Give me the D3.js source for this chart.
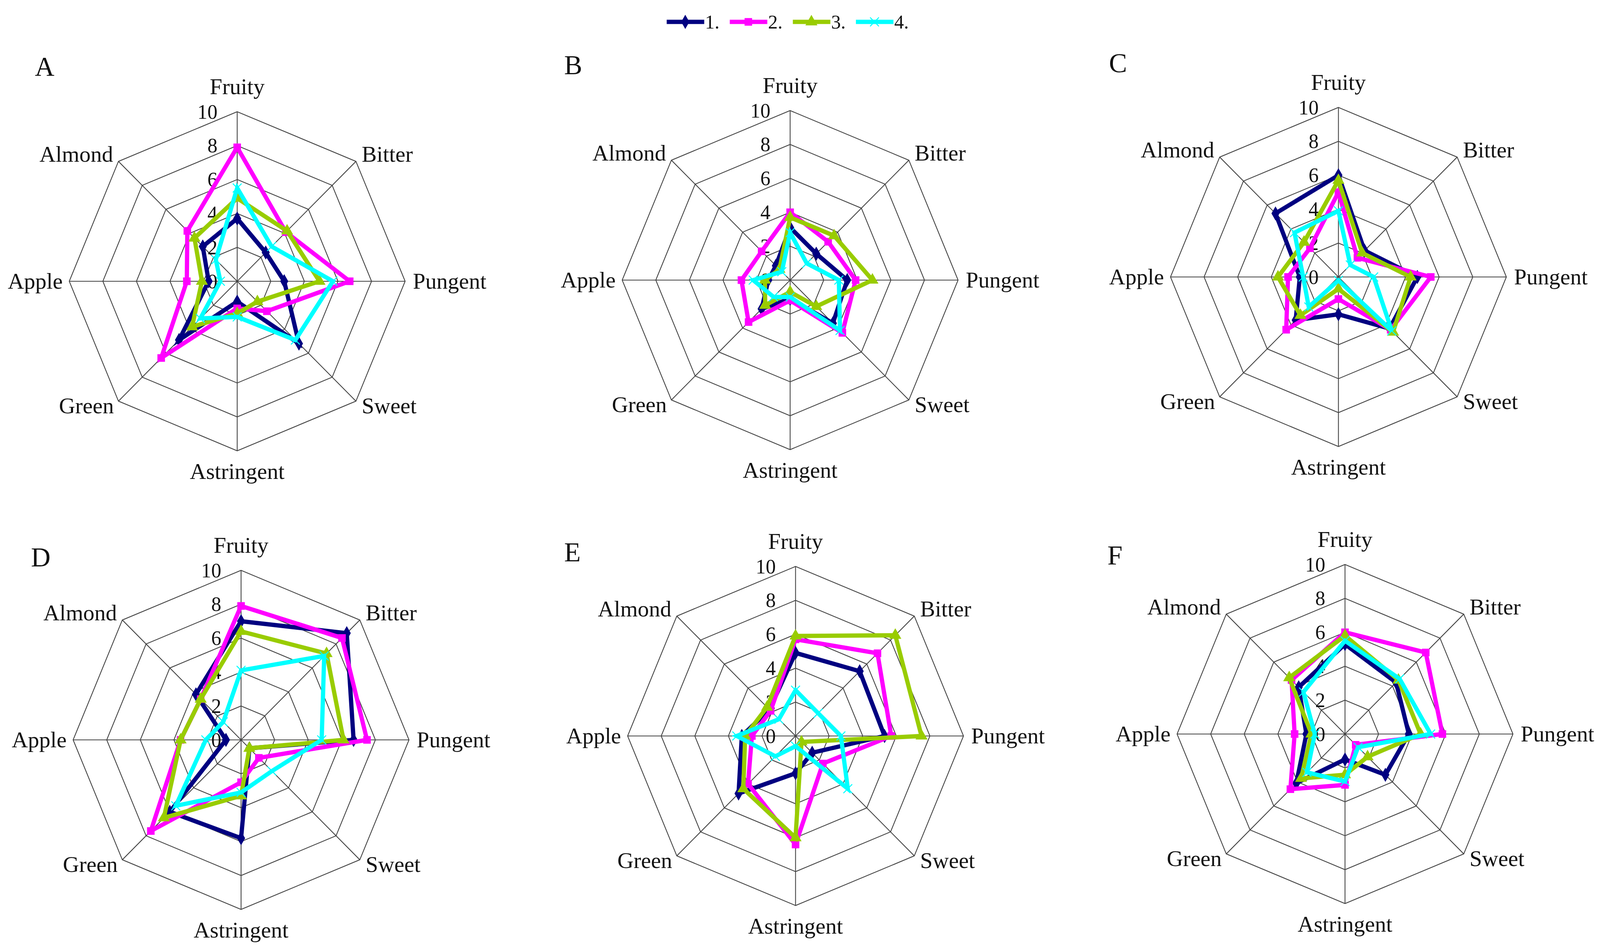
<!DOCTYPE html>
<html>
<head>
<meta charset="utf-8">
<script src="https://cdn.jsdelivr.net/npm/d3@7"></script>
<style>
  html, body { margin: 0; padding: 0; overflow: hidden; background: #fff; }
  svg { display: block; }
  text { font-family: "Liberation Serif", "Times New Roman", serif; fill: #111; }
</style>
</head>
<body>
<div id="chart"></div>
<script>
// axes of every radar, clockwise from the top
var axes = ["Fruity", "Bitter", "Pungent", "Sweet", "Astringent", "Green", "Apple", "Almond"];
var seriesNames = ["1.", "2.", "3.", "4."];
var ticks = [0, 2, 4, 6, 8, 10];
var panelNames = ["A", "B", "C", "D", "E", "F"];

// values per panel: one row per series (1. .. 4.), same order as axes
var panelA = [
    [3.7, 2.4, 2.8, 5.2, 1.2, 4.9, 1.7, 2.9],
    [7.9, 4.1, 6.7, 2.5, 1.6, 6.4, 3.0, 4.2],
    [4.9, 4.2, 4.9, 1.7, 1.9, 3.8, 2.1, 3.6],
    [5.5, 2.9, 5.7, 4.9, 2.1, 3.1, 1.0, 1.8]
];
var panelB = [
    [3.1, 2.2, 3.4, 3.6, 1.1, 2.4, 1.3, 1.2],
    [4.0, 3.2, 3.9, 4.4, 1.2, 3.5, 2.9, 2.4],
    [3.7, 3.7, 4.9, 2.2, 0.7, 2.1, 1.5, 0.9],
    [2.8, 1.4, 2.9, 4.2, 1.0, 1.4, 2.2, 0.7]
];
var panelC = [
    [6.0, 2.2, 4.7, 4.3, 2.2, 3.6, 2.3, 5.3],
    [5.0, 1.6, 5.5, 4.4, 1.3, 4.4, 3.0, 2.4],
    [5.7, 2.0, 4.3, 4.6, 0.7, 3.2, 3.6, 2.9],
    [3.9, 1.0, 2.1, 4.5, 0.2, 2.5, 2.1, 3.7]
];
var panelD = [
    [7.0, 8.9, 6.7, 0.7, 5.8, 6.0, 0.9, 3.8],
    [7.9, 8.5, 7.5, 1.5, 2.5, 7.6, 3.6, 3.4],
    [6.4, 7.2, 6.1, 0.7, 3.3, 6.5, 3.6, 3.4],
    [4.1, 7.0, 4.8, 2.6, 3.1, 5.5, 2.1, 1.5]
];
var panelE = [
    [4.9, 5.4, 5.3, 1.4, 2.2, 4.8, 3.2, 2.2],
    [5.7, 6.9, 5.7, 2.3, 6.4, 4.0, 2.6, 2.1],
    [5.9, 8.4, 7.5, 0.5, 6.0, 4.4, 3.0, 2.4],
    [2.7, 1.9, 2.7, 4.4, 0.6, 1.7, 3.5, 1.4]
];
var panelF = [
    [5.3, 4.3, 3.8, 3.4, 1.5, 4.1, 2.3, 3.9],
    [6.0, 6.8, 5.8, 0.9, 3.0, 4.6, 3.0, 4.5],
    [5.8, 4.5, 4.5, 1.9, 2.4, 3.7, 2.0, 4.7],
    [5.5, 4.6, 5.1, 1.1, 2.8, 3.2, 1.8, 3.5]
];
var panelData = [panelA, panelB, panelC, panelD, panelE, panelF];

// layout in reference pixels; the svg viewBox maps it onto the visible window
var width = 4135, height = 2437, R = 434;
var centers = [[613, 720], [2042, 717], [3459, 709], [623, 1894], [2056, 1884], [3476, 1879]];
var letterPos = [[90, 194], [1458, 190], [2866, 185], [80, 1450], [1458, 1437], [2862, 1445]];

var colors = ["#000080", "#FF00FF", "#99CC00", "#00FFFF"];
var symbols = [d3.symbolDiamond, d3.symbolSquare, d3.symbolTriangle, d3.symbolTimes];

var vw = document.documentElement.clientWidth || width;
var vh = document.documentElement.clientHeight || height;

var svg = d3.select("#chart")
    .append("svg")
    .attr("width", vw)
    .attr("height", vh)
    .attr("viewBox", `0 0 ${width} ${height}`)
    .attr("preserveAspectRatio", "none");

svg.append("rect").attr("width", width).attr("height", height).attr("fill", "#fff");

var r = d3.scaleLinear().domain([0, 10]).range([0, R]);
var angle = d3.scaleLinear().domain([0, axes.length]).range([0, 2 * Math.PI]);

function px(i, v) { return r(v) * Math.sin(angle(i)); }
function py(i, v) { return -r(v) * Math.cos(angle(i)); }

var line = d3.lineRadial()
    .angle((d, i) => angle(i))
    .radius(d => r(d))
    .curve(d3.curveLinearClosed);

function marker(g, s, x, y) {
    var sym = d3.symbol().type(symbols[s]);
    var m = g.append("path")
        .attr("transform", `translate(${x},${y})`);
    if (s === 3) {
        m.attr("d", sym.size(340)()).attr("fill", "none")
            .attr("stroke", colors[s]).attr("stroke-width", 2.5);
    } else {
        m.attr("d", sym.size(s === 2 ? 420 : 380)()).attr("fill", colors[s]);
    }
}

panelData.forEach(function(data, p) {
    var g = svg.append("g")
        .attr("transform", `translate(${centers[p][0]}, ${centers[p][1]})`);

    // grid rings
    ticks.slice(1).forEach(function(t) {
        g.append("path")
            .attr("d", line(axes.map(() => t)))
            .attr("fill", "none")
            .attr("stroke", "#444")
            .attr("stroke-width", 2.2);
    });
    // spokes
    axes.forEach(function(a, i) {
        g.append("line")
            .attr("x1", 0).attr("y1", 0)
            .attr("x2", px(i, 10)).attr("y2", py(i, 10))
            .attr("stroke", "#444")
            .attr("stroke-width", 2.2);
    });

    // tick labels along the Fruity axis
    ticks.forEach(function(t) {
        g.append("text")
            .attr("x", -51)
            .attr("y", -r(t))
            .attr("dy", "0.34em")
            .style("text-anchor", "end")
            .style("font-size", "52px")
            .text(t);
    });

    // series
    data.forEach(function(vals, s) {
        g.append("path")
            .attr("d", line(vals))
            .attr("fill", "none")
            .attr("stroke", colors[s])
            .attr("stroke-width", 11)
            .attr("stroke-linejoin", "miter");
        vals.forEach(function(v, i) {
            marker(g, s, px(i, v), py(i, v));
        });
    });

    // axis labels
    axes.forEach(function(a, i) {
        var x = px(i, 10), y = py(i, 10);
        var t = g.append("text").style("font-size", "58px").text(a);
        if (i === 0) {
            t.attr("x", x).attr("y", y - 45).style("text-anchor", "middle");
        } else if (i === 4) {
            t.attr("x", x).attr("y", y + 72).style("text-anchor", "middle");
        } else if (i === 2) {
            t.attr("x", x + 20).attr("y", y + 19).style("text-anchor", "start");
        } else if (i === 6) {
            t.attr("x", x - 17).attr("y", y + 19).style("text-anchor", "end");
        } else if (i === 1) {
            t.attr("x", x + 15).attr("y", y + 1).style("text-anchor", "start");
        } else if (i === 7) {
            t.attr("x", x - 14).attr("y", y + 1).style("text-anchor", "end");
        } else if (i === 3) {
            t.attr("x", x + 15).attr("y", y + 31).style("text-anchor", "start");
        } else {
            t.attr("x", x - 12).attr("y", y + 31).style("text-anchor", "end");
        }
    });

    // panel letter
    svg.append("text")
        .attr("x", letterPos[p][0])
        .attr("y", letterPos[p][1])
        .style("font-size", "70px")
        .text(panelNames[p]);
});

// legend
var legend = svg.append("g").attr("transform", "translate(1723, 56)");
seriesNames.forEach(function(name, s) {
    var lg = legend.append("g").attr("transform", `translate(${s * 163}, 0)`);
    lg.append("line")
        .attr("x1", 0).attr("x2", 97)
        .attr("y1", 0).attr("y2", 0)
        .attr("stroke", colors[s])
        .attr("stroke-width", 11);
    marker(lg, s, 48, 0);
    lg.append("text")
        .attr("x", 99)
        .attr("y", 17)
        .style("font-size", "50px")
        .text(name);
});
</script>
</body>
</html>
